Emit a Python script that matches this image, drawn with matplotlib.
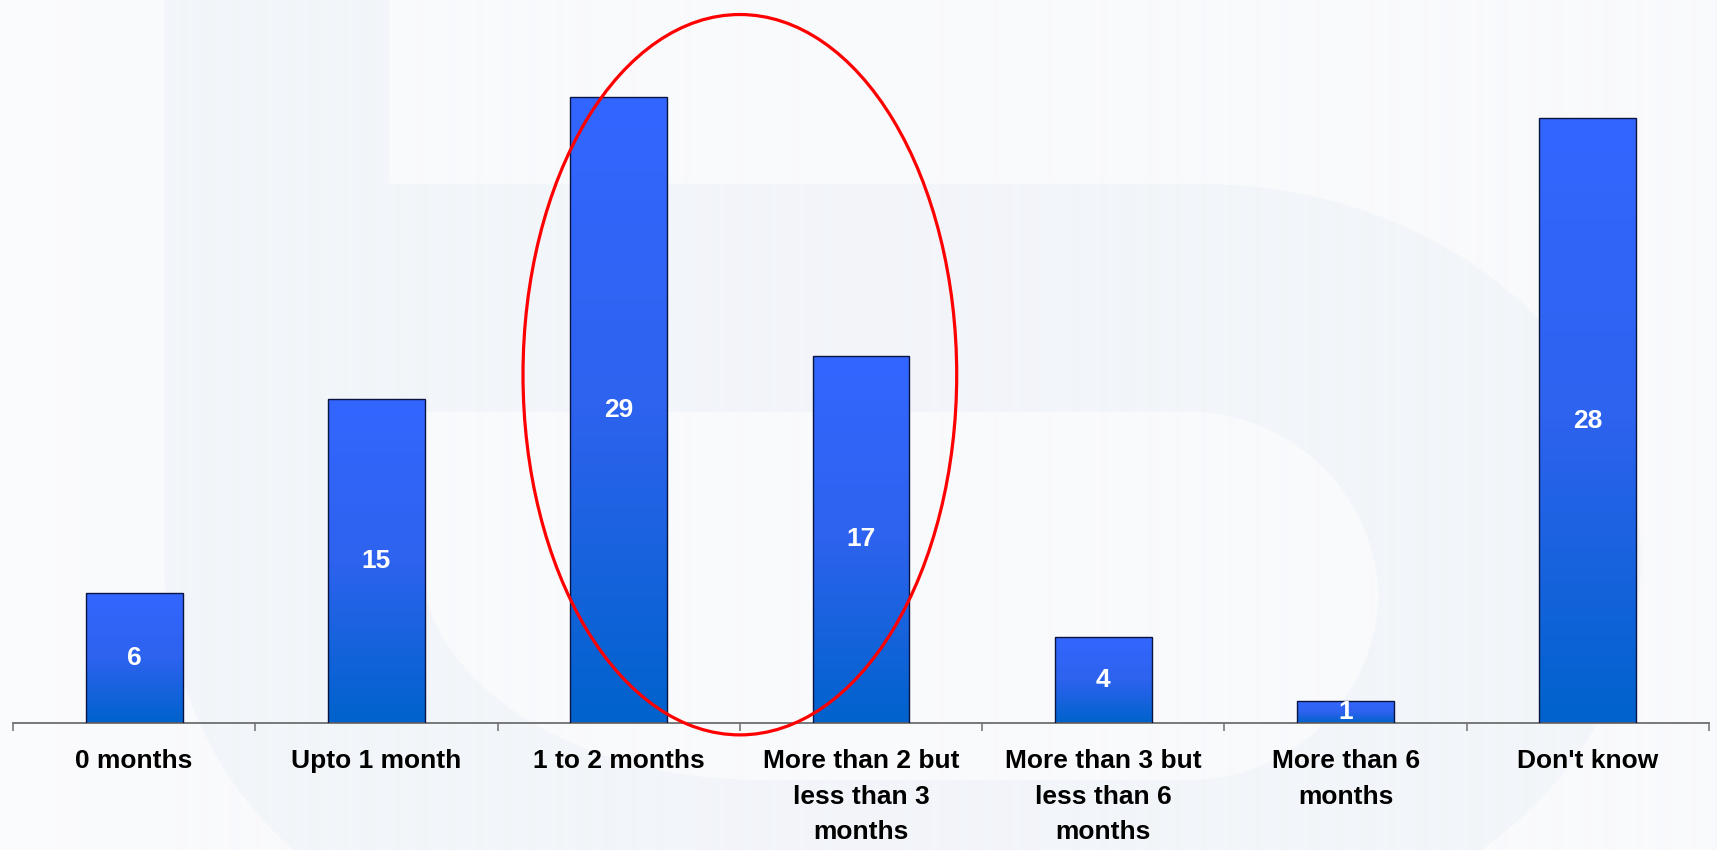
import matplotlib
matplotlib.use("Agg")
import matplotlib.pyplot as plt
import numpy as np
from matplotlib.colors import LinearSegmentedColormap, to_rgb
from matplotlib.patches import Ellipse

plt.rcParams['font.family'] = ['Liberation Sans', 'DejaVu Sans']

# survey answers
categories = ["0 months", "Upto 1 month", "1 to 2 months",
              "More than 2 but\nless than 3\nmonths",
              "More than 3 but\nless than 6\nmonths",
              "More than 6\nmonths", "Don't know"]
values = [6, 15, 29, 17, 4, 1, 28]
highlight = ["1 to 2 months", "More than 2 but\nless than 3\nmonths"]

W, H = 1717, 850
fig = plt.figure(figsize=(W / 100, H / 100), dpi=100)

# faint watermark letter behind the chart
yy, xx = np.mgrid[0:H, 0:W] + 0.5
light = np.array(to_rgb('#F9FAFC'))
dark = np.array(to_rgb('#F2F5F9'))

stem = (xx >= 164) & (xx <= 389) & (yy <= 560)
bowl = (xx >= 389) & (xx <= 1200) & (yy >= 184)
bowl_right = (((xx - 1200) / 440) ** 2 + ((yy - 560) / 376) ** 2 <= 1) & (xx >= 1200)
corner = ((xx - 520) / 356) ** 2 + ((yy - 560) / 376) ** 2 <= 1
outer = stem | bowl | bowl_right | corner

counter = (xx >= 421) & (xx <= 1378) & (yy >= 412) & (yy <= 780)
tr = (xx > 1188) & (yy < 602) & ((xx - 1188) ** 2 + (yy - 602) ** 2 > 190 ** 2)
br = (xx > 1188) & (yy > 590) & ((xx - 1188) ** 2 + (yy - 590) ** 2 > 190 ** 2)
bl = (xx < 760) & (yy > 560) & (((xx - 760) / 339) ** 2 + ((yy - 560) / 220) ** 2 > 1)
counter &= ~(tr | br | bl)

mask = outer & ~counter
img = np.where(mask[..., None], dark, light)
# slightly whiter strip at the far left
fade = np.clip((164 - xx) / 164, 0, 1)[..., None] * 0.4
img = img * (1 - fade) + np.ones(3) * fade * 0.995

bg = fig.add_axes([0, 0, 1, 1])
bg.imshow(img, aspect='auto', interpolation='bilinear')
bg.axis('off')

ax = fig.add_axes([13 / W, 127 / H, 1696 / W, 723 / H])
ax.patch.set_alpha(0)

x = np.arange(len(categories))
bars = ax.bar(x, values, width=0.4, color='none', edgecolor='#0A1440',
              linewidth=1.0, zorder=3)

cmap = LinearSegmentedColormap.from_list('barfade', ['#0062CC', '#2D63EE', '#3366FF'])
grad = np.linspace(0, 1, 256).reshape(-1, 1)
for b in bars:
    x0, w, h = b.get_x(), b.get_width(), b.get_height()
    im = ax.imshow(grad, cmap=cmap, origin='lower', aspect='auto',
                   extent=(x0, x0 + w, 0, h), zorder=2)
    im.set_clip_path(b)
    ax.text(x0 + w / 2, h / 2, str(int(h)), ha='center', va='center',
            color='white', fontsize=19, fontweight='bold', zorder=4)

ax.set_xlim(-0.5, len(categories) - 0.5)
ax.set_ylim(0, 723 / 21.6)

# red ring around the highlighted pair
hi = [categories.index(c) for c in highlight]
hv = max(values[i] for i in hi)
ring_h = hv * 1.15
ring = Ellipse((np.mean(hi), ring_h / 2 - 0.55), (hi[-1] - hi[0]) + 0.79, ring_h,
               fill=False, edgecolor='#FF0000', linewidth=2.3, clip_on=False, zorder=6)
ax.add_patch(ring)

for s in ['top', 'right', 'left']:
    ax.spines[s].set_visible(False)
ax.spines['bottom'].set_color('#6E6E6E')
ax.spines['bottom'].set_linewidth(1.3)
ax.set_yticks([])

ax.set_xticks(x)
ax.set_xticklabels(categories, fontsize=19, fontweight='bold', linespacing=1.6)
ax.tick_params(axis='x', which='major', length=0, pad=19)
ax.set_xticks(np.arange(len(categories) + 1) - 0.5, minor=True)
ax.tick_params(axis='x', which='minor', length=6, width=1.1, color='#6E6E6E')

fig.savefig('out.png', dpi=100)
plt.close(fig)
